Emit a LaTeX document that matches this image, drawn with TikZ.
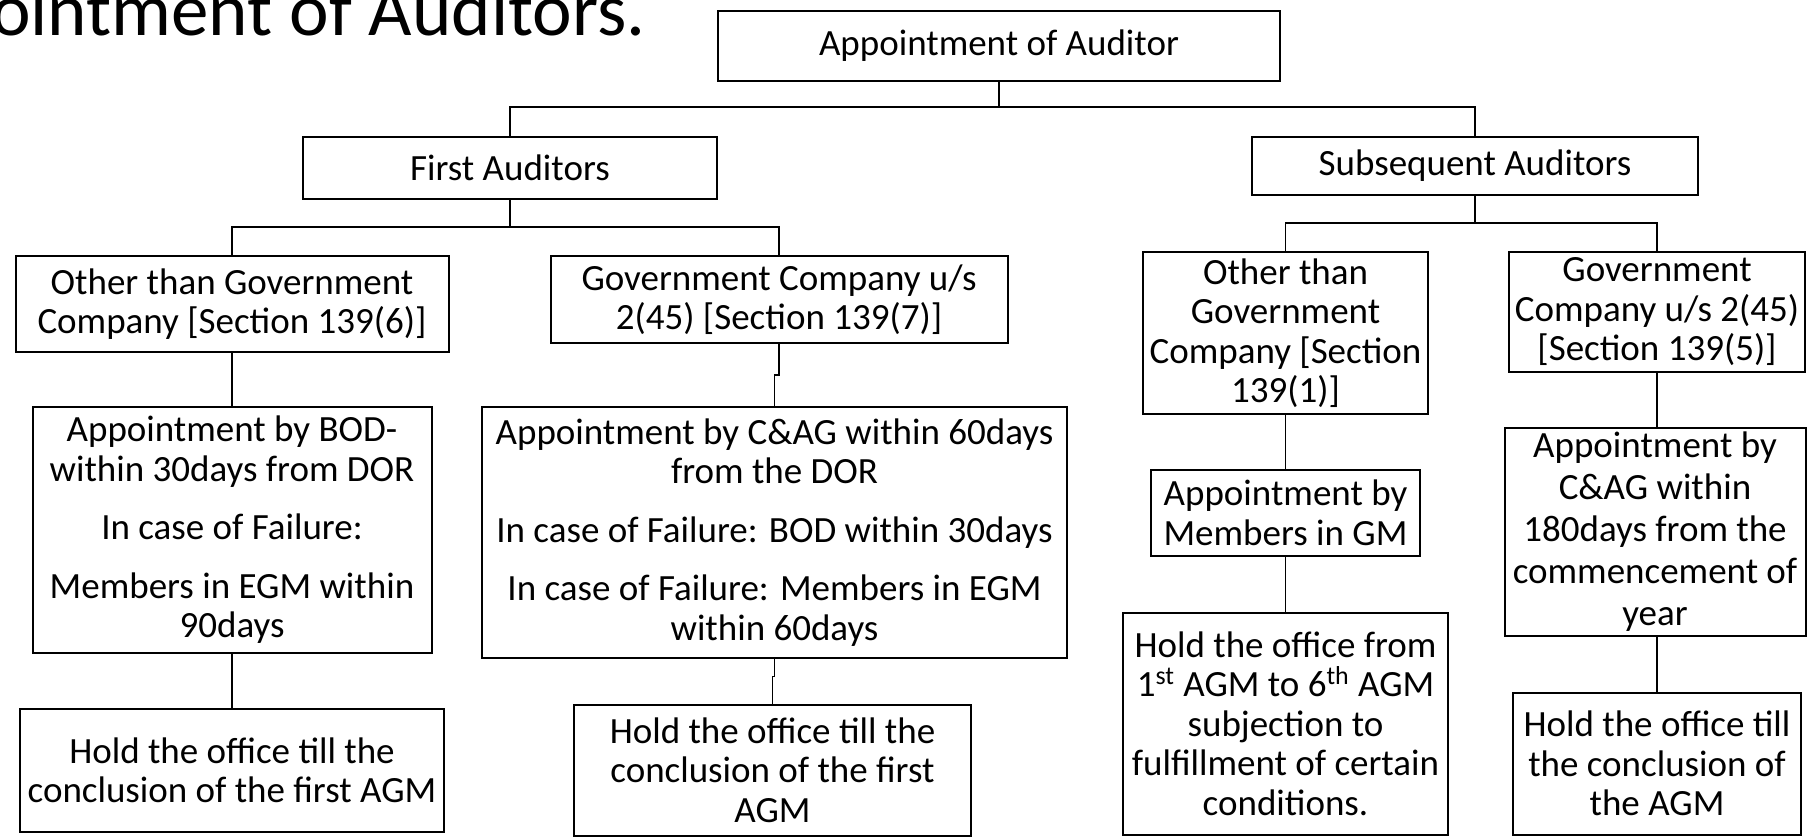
\documentclass[tikz,border=0pt]{standalone}
\usepackage{fontspec}
\setmainfont{Carlito}
\usetikzlibrary{positioning,calc}

\begin{document}
\begin{tikzpicture}[x=0.5pt,y=-0.5pt,
   cbox/.style 2 args={draw,line width=1pt,inner sep=0pt,align=center,
     minimum width=#1*0.5pt,minimum height=#2*0.5pt,
     font=\fontsize{18.5pt}{19.75pt}\selectfont},
   link/.style={line width=0.6pt}]
 \useasboundingbox (0,0) rectangle (1807,837);
 \clip (0,0) rectangle (1807,837);
 \node[anchor=base east,inner sep=0pt,font=\fontsize{37.5pt}{41pt}\selectfont]
   (title) at (646,35) {Appointment of Auditors.};
 % top levels
 \node[cbox={562}{70}] (root) at (999,46) {Appointment of Auditor};
 \node[cbox={414}{62}] (first) at (510,168) {First Auditors};
 \node[cbox={446}{58}] (subs) at (1475,166) {Subsequent Auditors};
 % first auditors branch
 \node[cbox={433}{96}] (a1) at (232,304) {Other than Government\\Company [Section 139(6)]};
 \node[cbox={457}{87}] (a2) at (779,299.5) {Government Company u/s\\2(45) [Section 139(7)]};
 \node[cbox={399}{246}] (a1b) at (232,530)
   {Appointment by BOD-\\within 30days from DOR\\[9.5pt]In case of Failure:\\[9.5pt]
    Members in EGM within\\90days};
 \node[cbox={424}{123}] (a1c) at (232,770.5) {Hold the office till the\\conclusion of the first AGM};
 \node[cbox={585}{251}] (a2b) at (774.5,532.5)
   {Appointment by C\&AG within 60days\\from the DOR\\[9.5pt]In case of Failure: BOD within 30days\\[9.5pt]
    In case of Failure: Members in EGM\\within 60days};
 \node[cbox={397}{131}] (a2c) at (772.5,770) {Hold the office till the\\conclusion of the first\\AGM};
 % subsequent auditors branch
 \node[cbox={285}{161.5}] (b1) at (1285.5,333) {Other than\\Government\\Company [Section\\139(1)]};
 \node[cbox={296}{119.5}] (b2) at (1657,312) {Government\\Company u/s 2(45)\\{}[Section 139(5)]};
 \node[cbox={269}{86}] (b1b) at (1285.5,513) {Appointment by\\Members in GM};
 \node[cbox={325}{222}] (b1c) at (1285.5,723.6)
   {Hold the office from\\1\textsuperscript{st} AGM to 6\textsuperscript{th} AGM\\subjection to\\
    fulfillment of certain\\conditions.};
 \node[cbox={301}{208.5},font=\fontsize{18.5pt}{21pt}\selectfont] (b2b) at (1655,532)
   {Appointment by\\C\&AG within\\180days from the\\commencement of\\year};
 \node[cbox={288}{142}] (b2c) at (1657,763.6) {Hold the office till\\the conclusion of\\the AGM};
 % connectors
 \coordinate (bar1) at (999,107);
 \coordinate (bar2) at (510,227);
 \coordinate (bar3) at (1475,223);
 \draw[link] (root.south) -- (bar1);
 \draw[link] (first.north) |- (bar1) -| (subs.north);
 \draw[link] (first.south) -- (bar2);
 \draw[link] (a1.north) |- (bar2) -| (a2.north);
 \draw[link] (subs.south) -- (bar3);
 \draw[link] (b1.north) |- (bar3) -| (b2.north);
 \draw[link] (a1.south) -- (a1b.north);
 \draw[link] (a1b.south) -- (a1c.north);
 \draw[link] (a2.south) |- ($(a2.south)!.5!(a2b.north)$) -| (a2b.north);
 \draw[link] (a2b.south) |- ($(a2b.south)!.4!(a2c.north)$) -| (a2c.north);
 \draw[link] (b1.south) -- (b1b.north);
 \draw[link] (b1b.south) -- (b1c.north);
 \draw[link] (b2.south) -- (b2.south|-b2b.north);
 \draw[link] (b2.south|-b2b.south) -- (b2.south|-b2c.north);
\end{tikzpicture}
\end{document}
